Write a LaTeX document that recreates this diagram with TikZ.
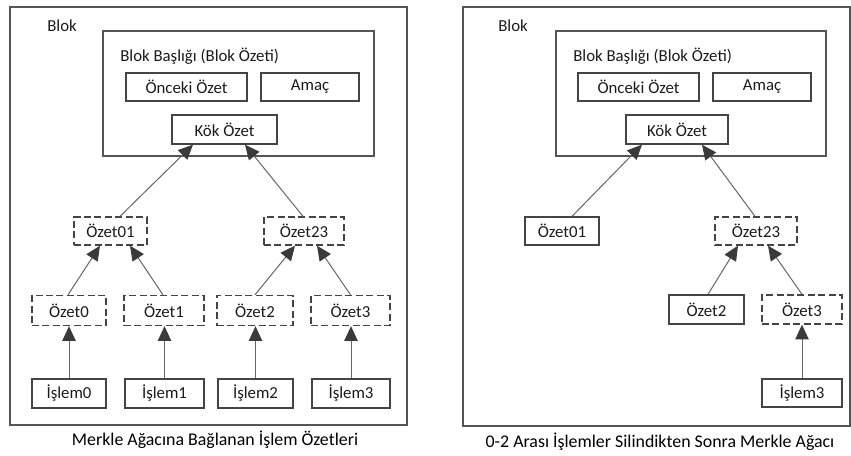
\documentclass[tikz,border=0pt]{standalone}
\usepackage{fontspec}
\setmainfont{Carlito}
\usetikzlibrary{arrows.meta}
\definecolor{boxc}{HTML}{444444}
\definecolor{framec}{HTML}{555555}
\definecolor{linec}{HTML}{666666}
\definecolor{headc}{HTML}{3A3A3A}
\definecolor{txtc}{HTML}{1A1A1A}
\begin{document}
\begin{tikzpicture}[x=0.75pt,y=-0.75pt,
  every node/.style={text=txtc, font=\fontsize{12.6}{15}\selectfont},
  frame/.style={draw=framec, line width=1pt, inner sep=0pt},
  sbox/.style={draw=boxc, line width=1pt, inner sep=0pt},
  dbox/.style={draw=boxc, line width=1pt, inner sep=0pt, dash pattern=on 5.25pt off 2.6pt},
  lbl/.style={anchor=west, inner sep=0pt},
  captxt/.style={inner sep=0pt, font=\fontsize{13.4}{16}\selectfont, text=black},
  arr/.style={draw=linec, line width=0.75pt, -{Triangle[length=11pt,width=10pt,color=headc]}}
]
\useasboundingbox (0,0) rectangle (851,455);

% ---------------- left panel ----------------
\node[frame, minimum width=297.75pt, minimum height=313.5pt] (blokL) at (208.5,216) {};
\node[lbl] (blokLt) at (47,26) {Blok};
\node[frame, minimum width=203.25pt, minimum height=93.75pt] (hdrL) at (238.5,93.5) {};
\node[lbl] (hdrLt) at (120,56) {Blok Başlığı (Blok Özeti)};
\node[sbox, minimum width=90.75pt, minimum height=21pt] (oncL) at (186.5,87) {Önceki Özet};
\node[sbox, minimum width=73.5pt, minimum height=21pt] (amcL) at (310,87) {Amaç};
\node[sbox, minimum width=78.75pt, minimum height=21.75pt] (kokL) at (224.5,129.5) {Kök Özet};
\node[dbox, minimum width=54.75pt, minimum height=21pt] (o01L) at (110.5,231) {Özet01};
\node[dbox, minimum width=60pt, minimum height=21pt] (o23L) at (304,231) {Özet23};
\node[dbox, minimum width=55.5pt, minimum height=22.5pt] (o0L) at (69,310.5) {Özet0};
\node[dbox, minimum width=60pt, minimum height=22.5pt] (o1L) at (164,310.5) {Özet1};
\node[dbox, minimum width=57pt, minimum height=22.5pt] (o2L) at (255,310.5) {Özet2};
\node[dbox, minimum width=59.25pt, minimum height=22.5pt] (o3L) at (350.5,310.5) {Özet3};
\node[sbox, minimum width=55.5pt, minimum height=21.75pt] (i0L) at (69,393.5) {İşlem0};
\node[sbox, minimum width=59.25pt, minimum height=21.75pt] (i1L) at (164.5,393.5) {İşlem1};
\node[sbox, minimum width=56.25pt, minimum height=21.75pt] (i2L) at (255.5,393.5) {İşlem2};
\node[sbox, minimum width=58.5pt, minimum height=21.75pt] (i3L) at (351,393.5) {İşlem3};
\node[captxt] (capL) at (215,440) {Merkle Ağacına Bağlanan İşlem Özetleri};

\draw[arr] ([shift={(9.5,0)}]o01L.north) -- ([shift={(-31.5,0)}]kokL.south);
\draw[arr] ([shift={(-1,0)}]o23L.north) -- ([shift={(20.5,0)}]kokL.south);
\draw[arr] ([shift={(-1,0)}]o0L.north) -- ([shift={(-10.5,0)}]o01L.south);
\draw[arr] ([shift={(-1,0)}]o1L.north) -- ([shift={(19.5,0)}]o01L.south);
\draw[arr] (o2L.north) -- ([shift={(-9,0)}]o23L.south);
\draw[arr] (o3L.north) -- ([shift={(13,0)}]o23L.south);
\draw[arr] (i0L.north) -- (i0L.north |- o0L.south);
\draw[arr] (i1L.north) -- (i1L.north |- o1L.south);
\draw[arr] (i2L.north) -- (i2L.north |- o2L.south);
\draw[arr] (i3L.north) -- (i3L.north |- o3L.south);

% ---------------- right panel ----------------
\node[frame, minimum width=290.25pt, minimum height=314.25pt] (blokR) at (656.5,216.5) {};
\node[lbl] (blokRt) at (498,26) {Blok};
\node[frame, minimum width=202.5pt, minimum height=93.75pt] (hdrR) at (691,93.5) {};
\node[lbl] (hdrRt) at (573,56) {Blok Başlığı (Blok Özeti)};
\node[sbox, minimum width=90.75pt, minimum height=21pt] (oncR) at (638.5,87) {Önceki Özet};
\node[sbox, minimum width=73.5pt, minimum height=21pt] (amcR) at (762,87) {Amaç};
\node[sbox, minimum width=76.5pt, minimum height=21.75pt] (kokR) at (677,129.5) {Kök Özet};
\node[sbox, minimum width=55.5pt, minimum height=21pt] (o01R) at (562,231) {Özet01};
\node[dbox, minimum width=61.5pt, minimum height=21pt] (o23R) at (756,231) {Özet23};
\node[sbox, minimum width=56.25pt, minimum height=21.75pt] (o2R) at (706.5,309.5) {Özet2};
\node[dbox, minimum width=60pt, minimum height=21.75pt] (o3R) at (802,309.5) {Özet3};
\node[sbox, minimum width=60pt, minimum height=21pt] (i3R) at (802,393) {İşlem3};
\node[captxt] (capR) at (660,442) {0-2 Arası İşlemler Silindikten Sonra Merkle Ağacı};

\draw[arr] ([shift={(10,0)}]o01R.north) -- ([shift={(-35,0)}]kokR.south);
\draw[arr] ([shift={(-1,0)}]o23R.north) -- ([shift={(25,0)}]kokR.south);
\draw[arr] ([shift={(1.5,0)}]o2R.north) -- ([shift={(-18,0)}]o23R.south);
\draw[arr] (o3R.north) -- ([shift={(12,0)}]o23R.south);
\draw[arr] (i3R.north) -- (i3R.north |- o3R.south);
\end{tikzpicture}
\end{document}
